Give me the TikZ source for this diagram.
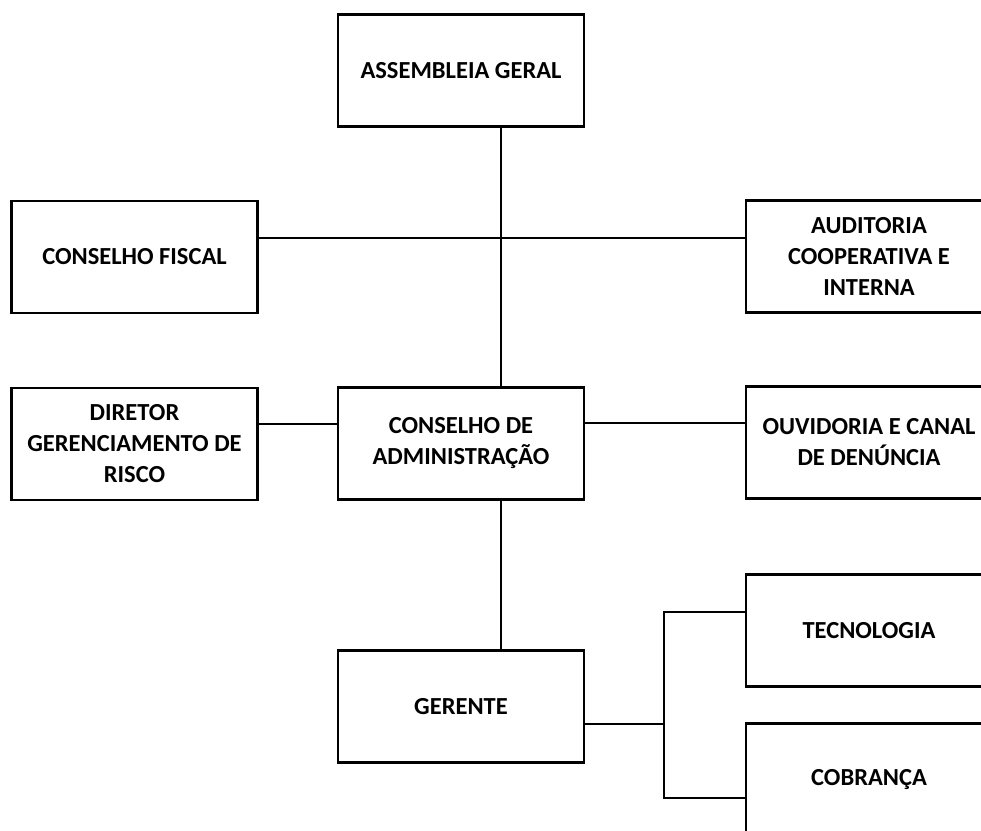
\documentclass[tikz,border=0pt]{standalone}
\usepackage{fontspec}
\setmainfont{Carlito}
\usepackage{tikz}
\usetikzlibrary{positioning}

\begin{document}
\begin{tikzpicture}[
    x=1pt, y=-1pt,
    orgbox/.style={draw=black, line width=2.2pt, minimum width=246pt,
                   minimum height=112pt, align=center, inner sep=2pt,
                   font=\fontsize{24.5}{31}\selectfont\bfseries},
    link/.style={line width=2pt, color=black}
  ]
  \useasboundingbox (0,0) rectangle (981,830);
  \clip (0,0) rectangle (981,830);

  \node[orgbox] (asm) at (461,70.5) {ASSEMBLEIA GERAL};
  \node[orgbox] (fis) at (134.5,257) {CONSELHO FISCAL};
  \node[orgbox] (aud) at (869,256.5) {AUDITORIA\\COOPERATIVA E\\INTERNA};
  \node[orgbox] (dir) at (134.5,444) {DIRETOR\\GERENCIAMENTO DE\\RISCO};
  \node[orgbox] (cda) at (461,443.5) {CONSELHO DE\\ADMINISTRAÇÃO};
  \node[orgbox] (ouv) at (869,442.5) {OUVIDORIA E CANAL\\DE DENÚNCIA};
  \node[orgbox] (ger) at (461,706.5) {GERENTE};
  \node[orgbox] (tec) at (869,630.5) {TECNOLOGIA};
  \node[orgbox] (cob) at (869,779.5) {COBRANÇA};

  % linha principal
  \draw[link] ([xshift=40pt]asm.south) -- ([xshift=40pt]cda.north);
  \draw[link] ([xshift=40pt]cda.south) -- ([xshift=40pt]ger.north);
  \draw[link] ([yshift=19pt]fis.east) -- ([yshift=19pt]fis.east -| aud.west);
  \draw[link] ([yshift=20pt]dir.east) -- ([yshift=20pt]dir.east -| cda.west);
  \draw[link] ([yshift=21pt]cda.east) -- ([yshift=21pt]cda.east -| ouv.west);

  % ramo do gerente
  \coordinate (br) at (664,724);
  \draw[link] ([yshift=-17.5pt]ger.east) -- (br);
  \draw[link] ([yshift=18.5pt]tec.west) -| (br) |- ([yshift=-18.5pt]cob.west);
\end{tikzpicture}
\end{document}
